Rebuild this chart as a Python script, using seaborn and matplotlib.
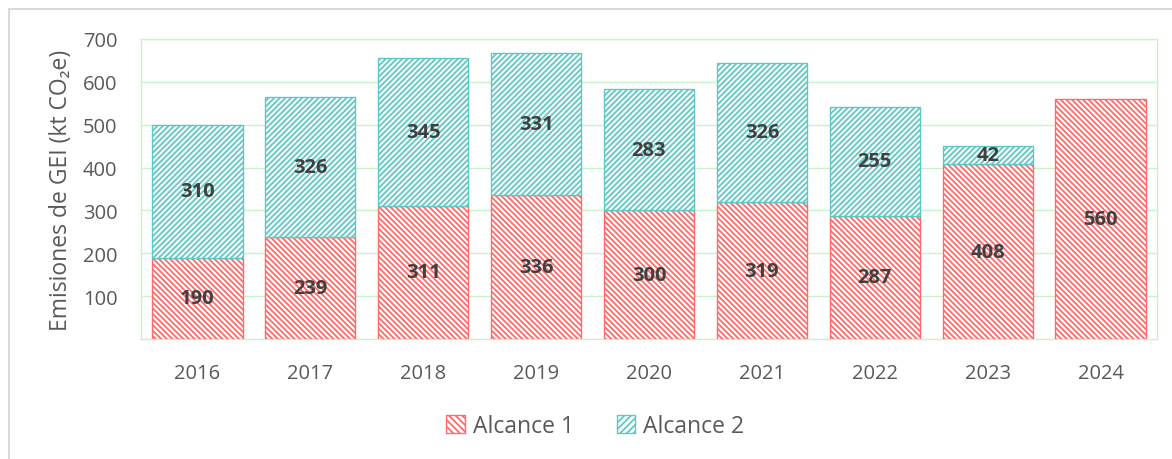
import seaborn as sns
import matplotlib.pyplot as plt
import matplotlib.patches as mpatches
import numpy as np
import pandas as pd

years = ['2016', '2017', '2018', '2019', '2020', '2021', '2022', '2023', '2024']
alcance1 = [190, 239, 311, 336, 300, 319, 287, 408, 560]
alcance2 = [310, 326, 345, 331, 283, 326, 255, 42, np.nan]
y_ticks = [100, 200, 300, 400, 500, 600, 700]

red = '#ff6b6b'
teal = '#5ec9c4'
grid_green = '#c8f2c8'
text_gray = '#595959'

sns.set_style('white')
plt.rcParams['font.family'] = ['Open Sans', 'DejaVu Sans']
plt.rcParams['hatch.linewidth'] = 1.3

df = pd.DataFrame({'Año': years, 'Alcance 1': alcance1, 'Alcance 2': alcance2})
df2 = df.dropna(subset=['Alcance 2'])

fig = plt.figure(figsize=(11.72, 4.6), dpi=100)
ax = fig.add_axes([0.1203, 0.2609, 0.8669, 0.6522])

# outer chart frame (right and bottom edges fall outside the image)
fig.patches.append(mpatches.Rectangle((9 / 1172, -0.1), 1.2, 1.1 - 10 / 460,
                                      transform=fig.transFigure, fill=False,
                                      edgecolor='#d9d9d9', linewidth=1.5))

sns.barplot(data=df, x='Año', y='Alcance 1', order=years, color='white', width=0.8,
            edgecolor=red, hatch='\\' * 6, linewidth=1.0, ax=ax, zorder=3)
sns.barplot(data=df2, x='Año', y='Alcance 2', order=years, color='white', width=0.8,
            bottom=df2['Alcance 1'].values, edgecolor=teal, hatch='/' * 6,
            linewidth=1.0, ax=ax, zorder=3)

for i, (a, b) in enumerate(zip(alcance1, alcance2)):
    ax.text(i, a / 2, str(a), ha='center', va='center', fontsize=14.5,
            fontweight='bold', color='#404040', zorder=5)
    if not np.isnan(b):
        ax.text(i, a + b / 2, str(int(b)), ha='center', va='center', fontsize=14.5,
                fontweight='bold', color='#404040', zorder=5)

ax.set_ylim(0, 700)
ax.set_xlim(-0.5, len(years) - 0.5)
ax.set_yticks(y_ticks)
ax.yaxis.grid(True, color=grid_green, linewidth=1)
ax.set_axisbelow(True)
for s in ax.spines.values():
    s.set_color(grid_green)
    s.set_linewidth(1)
ax.tick_params(axis='both', length=0, labelsize=14.5, colors=text_gray)
ax.tick_params(axis='y', pad=17)
ax.tick_params(axis='x', pad=17)
ax.set_xlabel('')
ax.set_ylabel('Emisiones de GEI (kt CO₂e)', fontsize=16.5, color=text_gray, labelpad=7)

handles = [mpatches.Patch(facecolor='white', edgecolor=red, hatch='\\' * 5, label='Alcance 1'),
           mpatches.Patch(facecolor='white', edgecolor=teal, hatch='/' * 5, label='Alcance 2')]
leg = fig.legend(handles=handles, loc='center', bbox_to_anchor=(0.508, 0.072), ncol=2,
                 frameon=False, fontsize=16.5, handlelength=0.8, handleheight=0.8,
                 handletextpad=0.35, columnspacing=1.9)
for t in leg.get_texts():
    t.set_color(text_gray)

fig.savefig('out.png', dpi=100)
